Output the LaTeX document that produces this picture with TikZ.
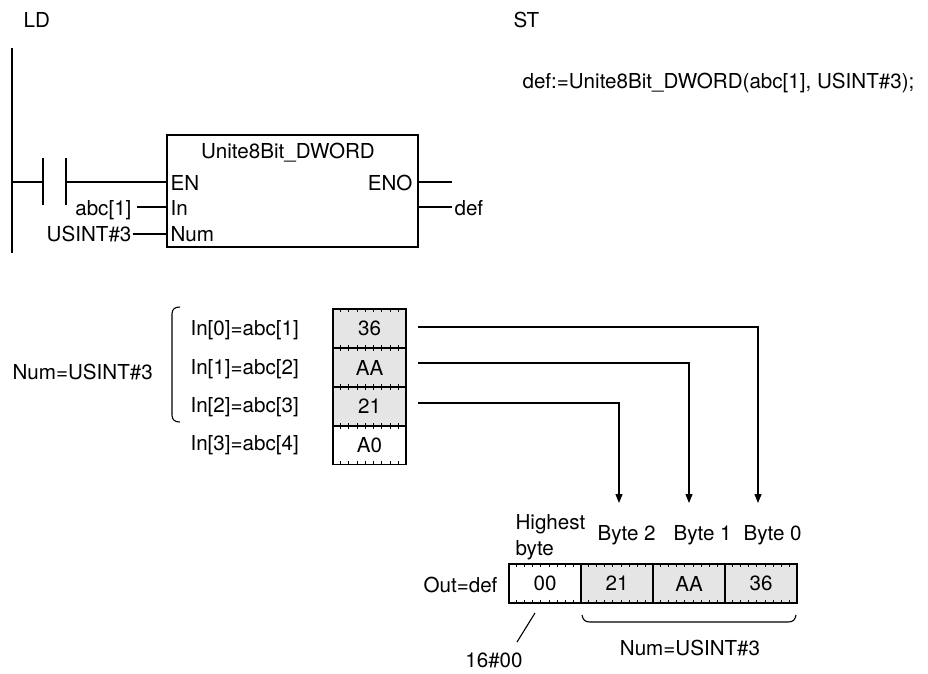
\documentclass[tikz,border=0pt]{standalone}
\usepackage{fontspec}
\setmainfont{TeX Gyre Heros}
\usetikzlibrary{arrows.meta,calc}
\begin{document}
\begin{tikzpicture}[x=1pt,y=-1pt,
  font=\fontsize{20.6}{24}\selectfont,
  line width=1.1pt,
  txt/.style={inner sep=0pt,anchor=base west},
  txtr/.style={inner sep=0pt,anchor=base east},
  txtc/.style={inner sep=0pt,anchor=base},
  cell/.style={draw,line width=1.2pt,minimum width=72pt,minimum height=39pt,inner sep=0pt},
  graycell/.style={cell,fill=gray!20},
  arr/.style={-{Triangle[length=9pt,width=7pt]}},
  tick/.style={line width=0.9pt}]
\useasboundingbox (0,0) rectangle (928,673);

% headings
\node[txt] (ld) at (23,27) {LD};
\node[txt] (st) at (513,27) {ST};
\node[txt] (stline) at (522,88) {def:=Unite8Bit\_DWORD(abc[1], USINT\#3);};

% ladder
\draw[line width=2pt] (12,48) -- (12,253);
\coordinate (railEN) at (12,182);
\coordinate (cA) at (43,182);
\coordinate (cB) at (66,182);
\draw (railEN) -- (cA);
\draw (43,158) -- (43,205);
\draw (66,158) -- (66,205);
\node[draw,line width=1.2pt,minimum width=251pt,minimum height=112pt,inner sep=0pt] (fb) at (292.5,191) {};
\node[txtc] (title) at (288,158.5) {Unite8Bit\_DWORD};
\node[txt] (en) at (170,190) {EN};
\node[txtr] (eno) at (413,190) {ENO};
\node[txt] (in) at (170,215) {In};
\node[txt] (num) at (170,241) {Num};
\node[txtr] (abc) at (132,215) {abc[1]};
\node[txtr] (usint) at (132,241) {USINT\#3};
\node[txt] (def) at (454,215) {def};
\coordinate (pEN) at (167,182);
\coordinate (pIn) at (167,207);
\coordinate (pNum) at (167,234);
\coordinate (pENO) at (418,182);
\coordinate (pOut) at (418,207);
\coordinate (eENO) at (452,182);
\coordinate (eOut) at (452,207);
\coordinate (eabc) at (137,207);
\coordinate (eusint) at (133,234);
\draw (cB) -- (pEN);
\draw (eabc) -- (pIn);
\draw (eusint) -- (pNum);
\draw (pENO) -- (eENO);
\draw (pOut) -- (eOut);

% input array
\node[txt] (numlbl) at (12,379) {Num=USINT\#3};
\draw (180,307) .. controls (175,307) and (172,309) .. (172,314) -- (172,415) .. controls (172,420) and (175,422) .. (180,422);
\node[txt] (l0) at (190,335) {In[0]=abc[1]};
\node[txt] (l1) at (190,374) {In[1]=abc[2]};
\node[txt] (l2) at (190,412) {In[2]=abc[3]};
\node[txt] (l3) at (190,450) {In[3]=abc[4]};
\node[graycell,minimum width=73pt] (i0) at (369.5,328.5) {36};
\node[graycell,minimum width=73pt] (i1) at (369.5,367.5) {AA};
\node[graycell,minimum width=73pt] (i2) at (369.5,406.5) {21};
\node[cell,minimum width=73pt] (i3) at (369.5,445) {A0};

% output array
\node[cell] (o3) at (545,583.5) {00};
\node[graycell] (o2) at (617,583.5) {21};
\node[graycell] (o1) at (689,583.5) {AA};
\node[graycell] (o0) at (761,583.5) {36};
\node[txtr] (outdef) at (498,592) {Out=def};
\node[txt] (hi1) at (515,529) {Highest};
\node[txt] (hi2) at (515,555) {byte};
\node[txt] (b2) at (597,540) {Byte 2};
\node[txt] (b1) at (673,540) {Byte 1};
\node[txt] (b0) at (743,540) {Byte 0};

% ticks
\foreach \c in {i0,i1,i2,i3,o0,o1,o2,o3}{
  \foreach \i in {1,...,8}{
    \draw[tick] ($(\c.north west)!\i/9!(\c.north east)$) -- ++(0pt,-4pt);
    \draw[tick] ($(\c.south west)!\i/9!(\c.south east)$) -- ++(0pt,4pt);
  }
}

% connectors
\coordinate (t0) at (758,503);
\coordinate (t1) at (689,503);
\coordinate (t2) at (619,503);
\draw[arr] ([xshift=11pt,yshift=1.5pt]i0.east) -| (t0);
\draw[arr] ([xshift=11pt,yshift=4.5pt]i1.east) -| (t1);
\draw[arr] ([xshift=11pt,yshift=3.5pt]i2.east) -| (t2);

% bottom brace and labels
\draw (582,615) .. controls (583,620) and (585,622) .. (590,622) -- (788,622) .. controls (793,622) and (795,620) .. (796,615);
\node[txtc] (numbot) at (690,655) {Num=USINT\#3};
\node[txtc] (hex) at (494,667) {16\#00};
\coordinate (slA) at (535,613);
\coordinate (slB) at (517,642);
\draw (slA) -- (slB);
\end{tikzpicture}
\end{document}
